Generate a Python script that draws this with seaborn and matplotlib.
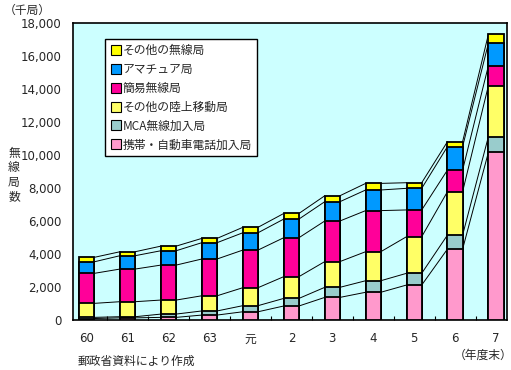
"""
無線局数の推移（積み上げ棒グラフ + 区切り線）
"""
import numpy as np
import matplotlib
matplotlib.use("Agg")
import matplotlib.pyplot as plt
from matplotlib.lines import Line2D
import seaborn as sns

# 年度末（昭和60年〜平成7年）
years = ["60", "61", "62", "63", "元", "2", "3", "4", "5", "6", "7"]

# 各区分の無線局数（千局）
keitai = [90, 130, 160, 300, 500, 850, 1370, 1680, 2120, 4300, 10160]
mca = [70, 70, 200, 250, 370, 460, 610, 700, 710, 850, 950]
rikujo = [850, 910, 850, 920, 1090, 1320, 1560, 1760, 2220, 2630, 3090]
kani = [1820, 1980, 2120, 2230, 2280, 2360, 2460, 2490, 1620, 1310, 1210]
amateur = [700, 810, 870, 990, 1050, 1130, 1170, 1250, 1310, 1420, 1360]
sonota = [270, 240, 280, 260, 330, 340, 360, 400, 340, 300, 540]

series = [
    ("携帯・自動車電話加入局", keitai, "#FF99CC"),
    ("MCA無線加入局", mca, "#99CCCC"),
    ("その他の陸上移動局", rikujo, "#FFFF66"),
    ("簡易無線局", kani, "#FF0099"),
    ("アマチュア局", amateur, "#0099FF"),
    ("その他の無線局", sonota, "#FFFF00"),
]

sns.set_theme(style="white")
plt.rcParams["font.family"] = ["Noto Sans CJK JP", "DejaVu Sans"]
NUM_FONT = ["DejaVu Sans", "Noto Sans CJK JP"]

fig = plt.figure(figsize=(5.11, 3.70), dpi=100)
ax = fig.add_axes([73 / 511, 50 / 370, 434 / 511, 297 / 370])
ax.set_facecolor("#CCFFFF")

bar_w = 0.37
cums = np.cumsum([s[1] for s in series], axis=0)

# 上の累積から順に重ねて描く
for (label, _, color), cum in reversed(list(zip(series, cums))):
    sns.barplot(x=years, y=cum, color=color, width=bar_w, saturation=1,
                edgecolor="black", linewidth=1.3, errorbar=None, ax=ax, zorder=3)

# 区切り線（各棒の区分の上端を結ぶ）
xs = np.arange(len(years))
for cum in cums:
    for i in range(len(years) - 1):
        ax.plot([xs[i] + bar_w / 2, xs[i + 1] - bar_w / 2], [cum[i], cum[i + 1]],
                color="black", lw=0.7, zorder=2)

ax.set_xlim(-0.34, 10.27)
ax.set_ylim(0, 18000)
ax.set_yticks(np.arange(0, 18001, 2000))
ax.set_yticklabels([f"{v:,}" for v in range(0, 18001, 2000)], fontsize=8.5, family=NUM_FONT)
ax.set_xticks(xs)
ax.set_xticklabels(years, fontsize=8.5, family=NUM_FONT)
ax.set_xticks(xs[:-1] + 0.5, minor=True)
ax.tick_params(axis="x", which="major", length=0, pad=9)
ax.tick_params(axis="x", which="minor", direction="in", length=3, width=0.8, color="black", bottom=True)
ax.tick_params(axis="y", length=0, pad=8)
ax.set_xlabel("")
ax.set_ylabel("")
for sp in ax.spines.values():
    sp.set_color("black")
    sp.set_linewidth(1.2)

handles = [Line2D([], [], marker="s", linestyle="none", markersize=6.5,
                  markerfacecolor=c, markeredgecolor="black", markeredgewidth=0.8)
           for _, _, c in reversed(series)]
labels = [s[0] for s in reversed(series)]
leg = ax.legend(handles, labels, loc="upper left", bbox_to_anchor=(0.06, 0.965),
                fontsize=8.5, frameon=True, fancybox=False, edgecolor="black",
                facecolor="white", framealpha=1, labelspacing=0.5,
                handletextpad=0.1, handlelength=1.0, borderpad=0.4)
leg.get_frame().set_linewidth(1.0)
leg.set_zorder(5)

fig.text(4 / 511, 1 - 10 / 370, "（千局）", fontsize=8.5, va="center", ha="left")
fig.text(14 / 511, 1 - 175 / 370, "無\n線\n局\n数", fontsize=8.5, va="center",
         ha="center", linespacing=1.15)
fig.text(483 / 511, 1 - 355 / 370, "（年度末）", fontsize=8.5, va="center", ha="center")
fig.text(78 / 511, 1 - 361 / 370, "郵政省資料により作成", fontsize=8.5, va="center", ha="left")

fig.savefig("out.png", dpi=100, facecolor="white")
